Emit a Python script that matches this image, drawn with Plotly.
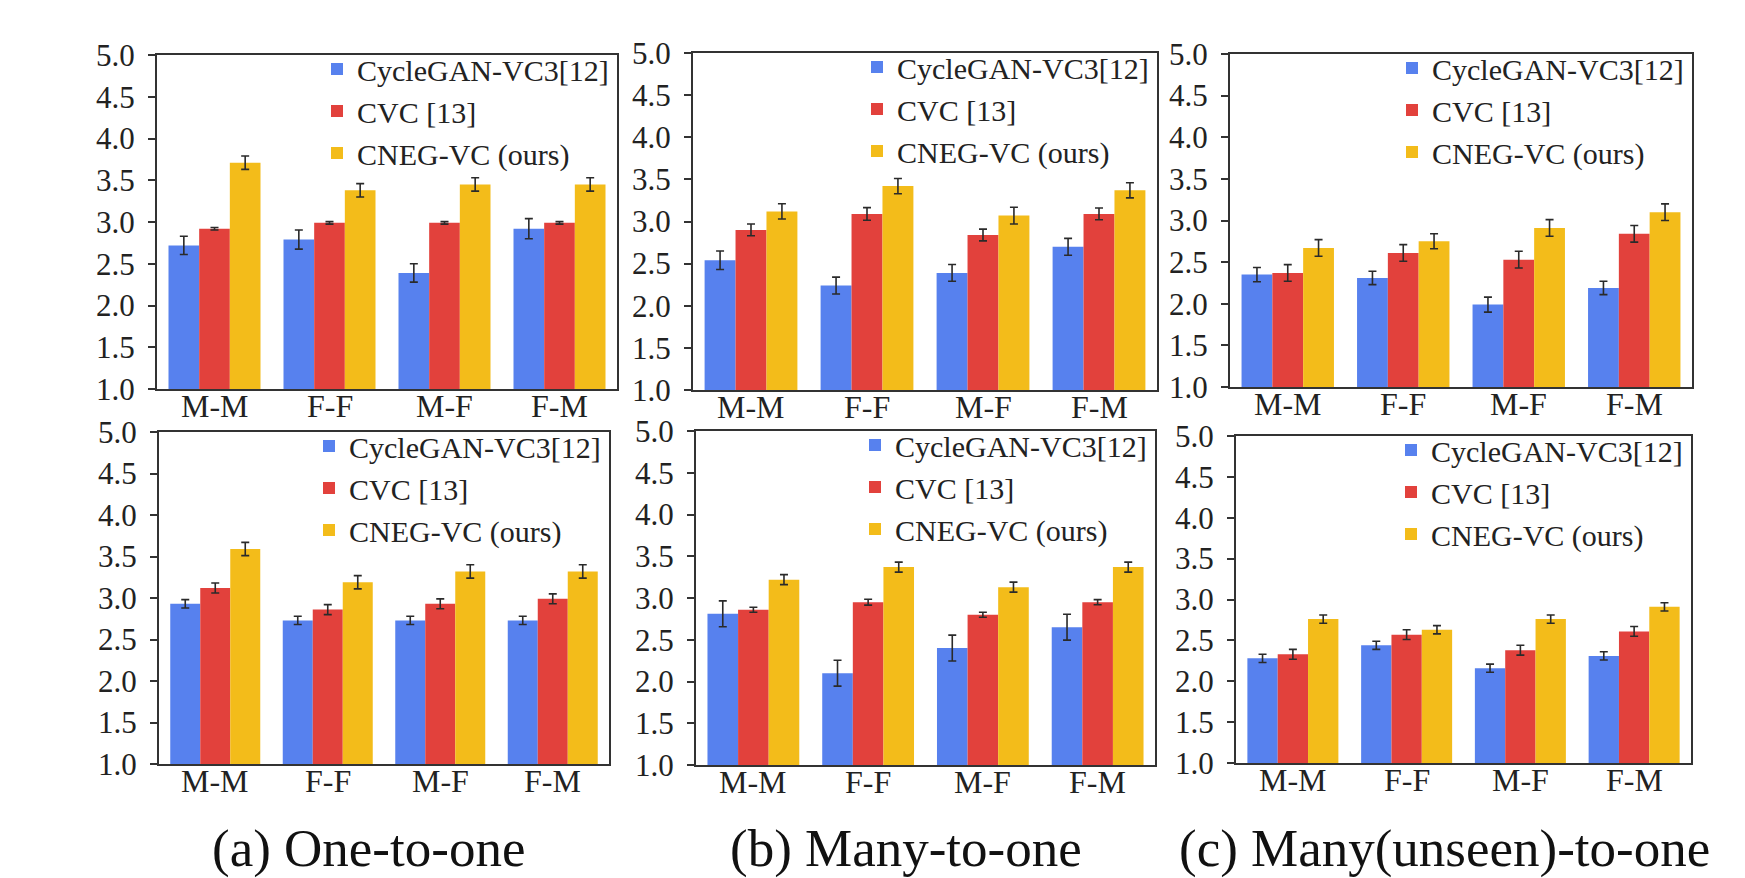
import plotly.graph_objects as go

categories = ["M-M", "F-F", "M-F", "F-M"]
series_names = ["CycleGAN-VC3[12]", "CVC [13]", "CNEG-VC (ours)"]
captions = ["(a) One-to-one", "(b) Many-to-one", "(c) Many(unseen)-to-one"]

# top row
a1_cyc = [2.72, 2.79, 2.39, 2.92]
a1_cyc_err = [0.11, 0.115, 0.11, 0.12]
a1_cvc = [2.92, 2.99, 2.99, 2.99]
a1_cvc_err = [0.015, 0.015, 0.015, 0.015]
a1_cneg = [3.71, 3.38, 3.45, 3.45]
a1_cneg_err = [0.08, 0.08, 0.08, 0.08]

b1_cyc = [2.54, 2.24, 2.39, 2.70]
b1_cyc_err = [0.11, 0.10, 0.10, 0.10]
b1_cvc = [2.90, 3.09, 2.84, 3.09]
b1_cvc_err = [0.07, 0.075, 0.07, 0.07]
b1_cneg = [3.12, 3.42, 3.07, 3.37]
b1_cneg_err = [0.09, 0.09, 0.10, 0.09]

c1_cyc = [2.35, 2.31, 1.99, 2.19]
c1_cyc_err = [0.085, 0.08, 0.09, 0.08]
c1_cvc = [2.37, 2.61, 2.53, 2.84]
c1_cvc_err = [0.10, 0.10, 0.10, 0.10]
c1_cneg = [2.67, 2.75, 2.91, 3.10]
c1_cneg_err = [0.10, 0.09, 0.10, 0.10]

# bottom row
a2_cyc = [2.93, 2.73, 2.73, 2.73]
a2_cyc_err = [0.05, 0.05, 0.05, 0.05]
a2_cvc = [3.12, 2.86, 2.93, 2.99]
a2_cvc_err = [0.06, 0.06, 0.06, 0.06]
a2_cneg = [3.59, 3.19, 3.32, 3.32]
a2_cneg_err = [0.08, 0.08, 0.08, 0.08]

b2_cyc = [2.81, 2.10, 2.40, 2.65]
b2_cyc_err = [0.155, 0.155, 0.155, 0.155]
b2_cvc = [2.86, 2.95, 2.80, 2.95]
b2_cvc_err = [0.03, 0.035, 0.03, 0.03]
b2_cneg = [3.22, 3.37, 3.13, 3.37]
b2_cneg_err = [0.06, 0.06, 0.06, 0.06]

c2_cyc = [2.28, 2.44, 2.16, 2.31]
c2_cyc_err = [0.05, 0.05, 0.05, 0.05]
c2_cvc = [2.33, 2.57, 2.38, 2.61]
c2_cvc_err = [0.06, 0.06, 0.06, 0.06]
c2_cneg = [2.76, 2.63, 2.76, 2.91]
c2_cneg_err = [0.05, 0.05, 0.05, 0.05]

yticks = [1.0, 1.5, 2.0, 2.5, 3.0, 3.5, 4.0, 4.5, 5.0]

panels = [
    ((a1_cyc, a1_cyc_err), (a1_cvc, a1_cvc_err), (a1_cneg, a1_cneg_err)),
    ((b1_cyc, b1_cyc_err), (b1_cvc, b1_cvc_err), (b1_cneg, b1_cneg_err)),
    ((c1_cyc, c1_cyc_err), (c1_cvc, c1_cvc_err), (c1_cneg, c1_cneg_err)),
    ((a2_cyc, a2_cyc_err), (a2_cvc, a2_cvc_err), (a2_cneg, a2_cneg_err)),
    ((b2_cyc, b2_cyc_err), (b2_cvc, b2_cvc_err), (b2_cneg, b2_cneg_err)),
    ((c2_cyc, c2_cyc_err), (c2_cvc, c2_cvc_err), (c2_cneg, c2_cneg_err)),
]

colors = ["#5781EE", "#E2413C", "#F3BC1A"]

W, H = 1745, 878
# pixel boxes (left, right, top, bottom)
boxes = [
    (149, 609, 47, 381),
    (685, 1149, 45, 382),
    (1222, 1684, 46, 379),
    (151, 601, 424, 756),
    (688, 1147, 423, 757),
    (1228, 1683, 428, 755),
]

FONT = "Liberation Serif"
fig = go.Figure()
layout = dict(
    width=W, height=H,
    margin=dict(l=0, r=0, t=0, b=0, autoexpand=False),
    paper_bgcolor="white", plot_bgcolor="white",
    barmode="group", bargap=0.2, bargroupgap=0.0,
    font=dict(family=FONT, color="#222222"),
)
annotations = []

for i, (panel, box) in enumerate(zip(panels, boxes)):
    n = i + 1
    xa = "x" if n == 1 else f"x{n}"
    ya = "y" if n == 1 else f"y{n}"
    lg = "legend" if n == 1 else f"legend{n}"
    for (vals, errs), name, col in zip(panel, series_names, colors):
        fig.add_trace(go.Bar(
            x=categories, y=vals, name=name,
            marker=dict(color=col, line=dict(width=0)),
            error_y=dict(type="data", array=errs, visible=True,
                         color="#2a2a2a", thickness=1.6, width=4),
            xaxis=xa, yaxis=ya, legend=lg, showlegend=True,
        ))
    l, r, t, b = box
    xkey = "xaxis" if n == 1 else f"xaxis{n}"
    ykey = "yaxis" if n == 1 else f"yaxis{n}"
    layout[xkey] = dict(
        domain=[l / W, r / W], anchor=ya, automargin=False,
        showline=True, linecolor="#333333", linewidth=2, mirror=True,
        ticks="", showgrid=False, showticklabels=False,
    )
    layout[ykey] = dict(
        domain=[1 - b / H, 1 - t / H], anchor=xa, automargin=False,
        range=[1, 5], tickvals=yticks, tickformat=".1f",
        showline=True, linecolor="#333333", linewidth=2, mirror=True,
        ticks="outside", ticklen=7, tickwidth=1.5, tickcolor="#333333",
        showgrid=False, zeroline=False, ticklabelstandoff=7,
        tickfont=dict(family=FONT, size=31, color="#222222"),
    )
    layout[lg] = dict(
        x=(r - 3) / W, xanchor="right",
        y=1 - (t - 12) / H, yanchor="top",
        bgcolor="rgba(0,0,0,0)", borderwidth=0,
        font=dict(family=FONT, size=30, color="#222222"),
        tracegroupgap=0, itemwidth=30,
    )
    # category labels close under the axis
    for cat in categories:
        annotations.append(dict(
            text=cat, x=cat, xref=xa, y=1 - (b + 17) / H, yref="paper",
            xanchor="center", yanchor="middle", showarrow=False,
            font=dict(family=FONT, size=32, color="#222222"),
        ))

centers = [360, 898, 1436]
for cap, cx in zip(captions, centers):
    annotations.append(dict(
        text=cap, x=cx / W, y=1 - 840 / H, xref="paper", yref="paper",
        xanchor="center", yanchor="middle", showarrow=False,
        font=dict(family=FONT, size=53, color="#111111"),
    ))
layout["annotations"] = annotations

fig.update_layout(**layout)
fig.write_html("out.html")
